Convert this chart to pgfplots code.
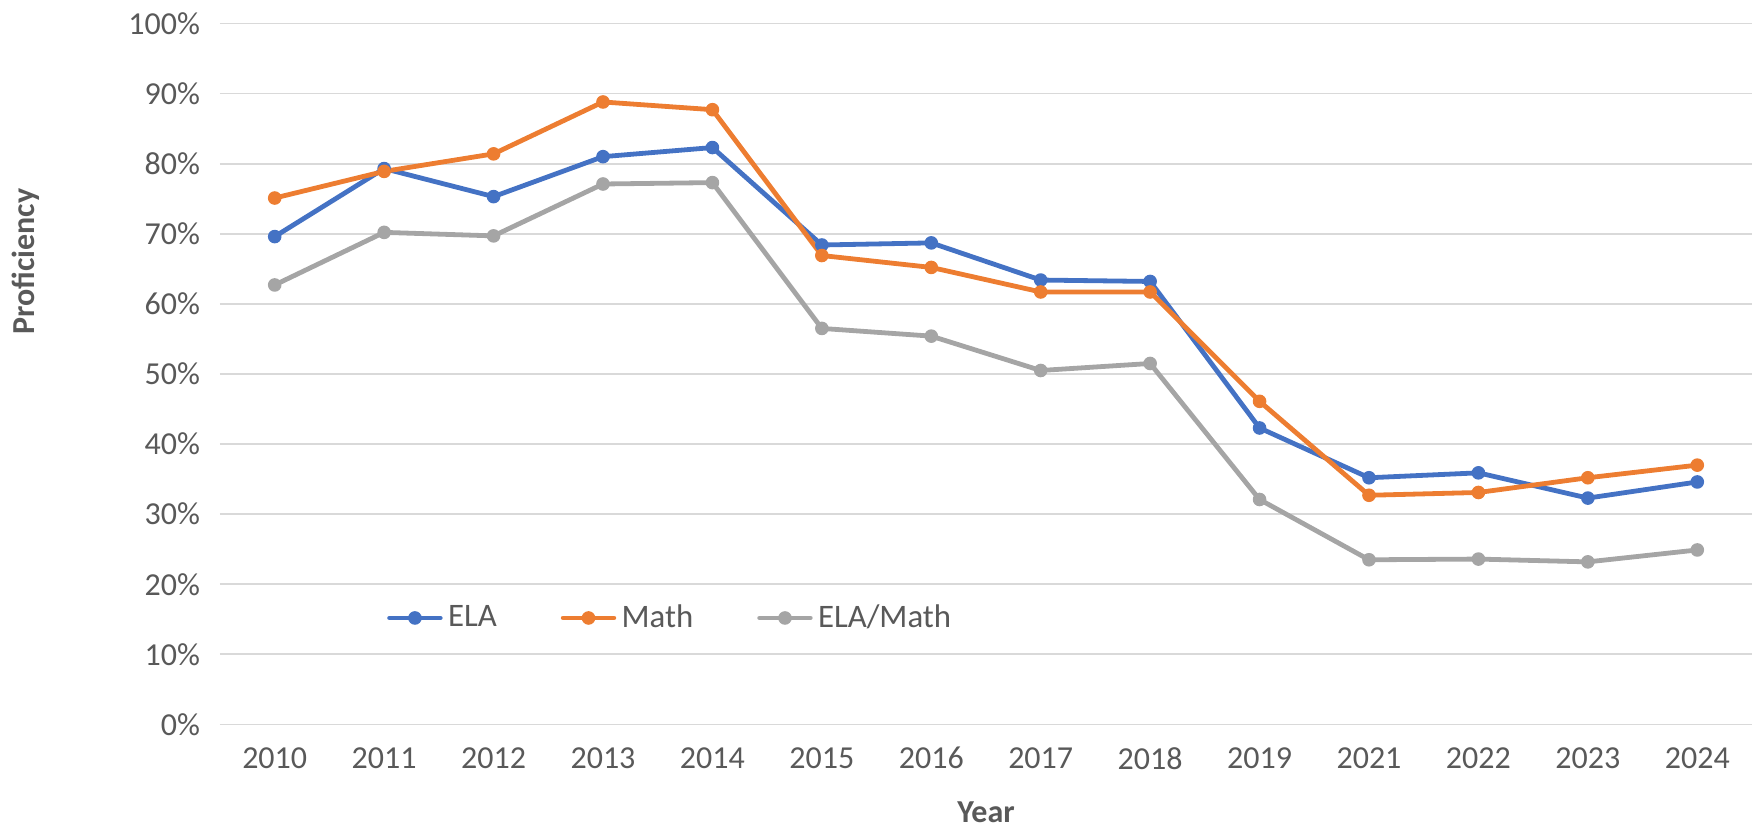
\documentclass[border=0pt]{standalone}
\usepackage{fontspec}
\setmainfont{Carlito}
\usepackage{pgfplots}
\pgfplotsset{compat=1.18}
\definecolor{ela}{HTML}{4472C4}
\definecolor{math}{HTML}{ED7D31}
\definecolor{both}{HTML}{A5A5A5}
\definecolor{gridc}{HTML}{D9D9D9}
\definecolor{txt}{HTML}{595959}
\begin{document}
\begin{tikzpicture}
\begin{axis}[
  width=574.5pt, height=262.9pt, scale only axis,
  at={(0,0)}, anchor=south west,
  xmin=-0.5, xmax=13.5, ymin=0, ymax=100,
  xtick={0,...,13},
  xticklabels={2010,2011,2012,2013,2014,2015,2016,2017,2018,2019,2021,2022,2023,2024},
  ytick={0,10,...,100},
  yticklabel={\pgfmathprintnumber{\tick}\%},
  /pgf/number format/assume math mode=true,
  ymajorgrids, grid style={color=gridc, line width=0.7pt},
  axis line style={draw=none}, major tick length=0pt,
  tick label style={font=\fontsize{12}{14}\selectfont, color=txt},
  xticklabel style={yshift=-5pt},
  yticklabel style={xshift=-4pt},
  clip=false,
  legend columns=3,
  legend style={draw=none, fill=none, at={(axis cs:0.95,15.2)}, anchor=west,
    font=\fontsize{12.3}{14}\selectfont\color{txt},
    /tikz/every even column/.append style={column sep=22pt}},
  legend image code/.code={\draw[mark repeat=2,mark phase=2,#1] plot coordinates {(0pt,0pt)(9.5pt,0pt)(19pt,0pt)};},
  every axis plot/.append style={line width=1.8pt, line cap=round, line join=round, mark=*, mark size=2.3pt},
]
\addplot[color=ela, mark options={fill=ela, line width=0.5pt}] coordinates {
(0,69.6)(1,79.3)(2,75.3)(3,81.0)(4,82.3)(5,68.4)(6,68.7)(7,63.4)(8,63.2)(9,42.3)(10,35.2)(11,35.9)(12,32.3)(13,34.6)};
\addlegendentry{ELA}
\addplot[color=math, mark options={fill=math, line width=0.5pt}] coordinates {
(0,75.1)(1,78.9)(2,81.4)(3,88.8)(4,87.7)(5,66.9)(6,65.2)(7,61.7)(8,61.7)(9,46.1)(10,32.7)(11,33.1)(12,35.2)(13,37.0)};
\addlegendentry{Math}
\addplot[color=both, mark options={fill=both, line width=0.5pt}] coordinates {
(0,62.7)(1,70.2)(2,69.7)(3,77.1)(4,77.3)(5,56.5)(6,55.4)(7,50.5)(8,51.5)(9,32.1)(10,23.5)(11,23.6)(12,23.2)(13,24.9)};
\addlegendentry{ELA/Math}
\node[rotate=90, font=\fontsize{12}{14}\selectfont\bfseries, color=txt, anchor=center] at (axis description cs:-0.127,0.66) {Proficiency};
\node[font=\fontsize{12}{14}\selectfont\bfseries, color=txt, anchor=center] at (axis description cs:0.5,-0.125) {Year};
\end{axis}
\pgfresetboundingbox
\path[use as bounding box] (-82.5pt,-38.4pt) rectangle (574.5pt,271.7pt);
\end{tikzpicture}
\end{document}
